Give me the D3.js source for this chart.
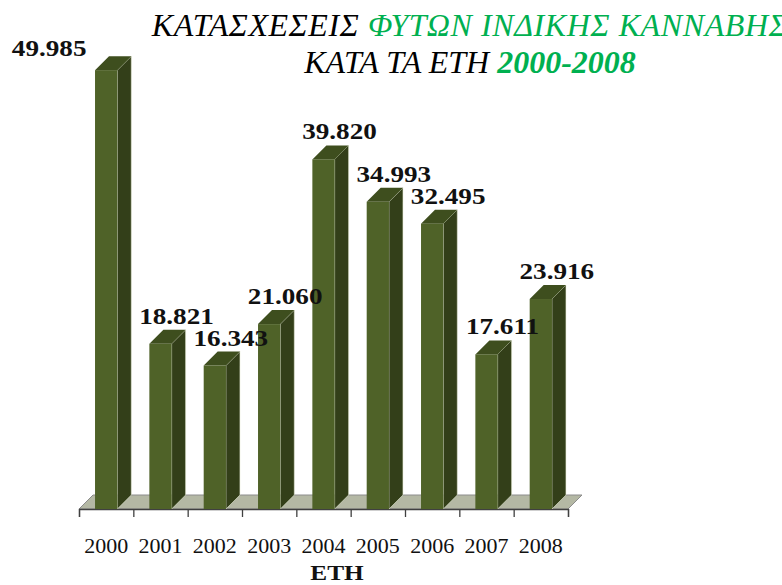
<!DOCTYPE html>
<html>
<head>
<meta charset="utf-8">
<script src="https://cdn.jsdelivr.net/npm/d3@7"></script>
<style>
  body { margin: 0; background: #fff; }
  svg { display: block; }
</style>
</head>
<body>
<div id="canvas"></div>
<script>
const years = ["2000", "2001", "2002", "2003", "2004", "2005", "2006", "2007", "2008"];
const seizures = [49985, 18821, 16343, 21060, 39820, 34993, 32495, 17611, 23916];
const titleLine1 = [["ΚΑΤΑΣΧΕΣΕΙΣ ", "black"], ["ΦΥΤΩΝ ΙΝΔΙΚΗΣ ΚΑΝΝΑΒΗΣ", "green"]];
const titleLine2 = [["ΚΑΤΑ ΤΑ ΕΤΗ ", "black"], ["2000-2008", "green"]];
const xTitle = "ΕΤΗ";

const width = 782;
const height = 585;
const floorY = 509;
const depth = 14;

const svg = d3.select("#canvas").append("svg")
  .attr("width", width)
  .attr("height", height);

const x = d3.scaleBand().domain(years).range([79, 568]);
const y = d3.scaleLinear().domain([0, 50000]).range([floorY, 70]);

const grLocale = d3.formatLocale({ decimal: ",", thousands: ".", grouping: [3], currency: ["", "€"] });
const fmt = grLocale.format(",");

const colors = { front: "#4f6228", side: "#333f19", top: "#3e4e1e", green: "#00b050" };

// widen Times-like glyphs a bit, the original font is a wide serif
function stretch(sel, k) {
  sel.each(function () {
    const w = this.getComputedTextLength();
    d3.select(this).attr("textLength", w * k).attr("lengthAdjust", "spacingAndGlyphs");
  });
}

// floor
const x0 = x.range()[0], x1 = x.range()[1];
svg.append("path")
  .attr("d", `M${x0},${floorY} L${x1},${floorY} L${x1 + depth},${floorY - depth} L${x0 + depth},${floorY - depth} Z`)
  .attr("fill", "#b4b8a4")
  .attr("stroke", "#8c8c8c")
  .attr("stroke-width", 1);

// ticks at category edges
const edges = d3.scaleLinear().domain([0, years.length]).range([x0, x1]);
svg.append("g")
  .attr("transform", `translate(0,${floorY})`)
  .call(d3.axisBottom(edges).ticks(years.length).tickSize(8).tickFormat(""))
  .call(g => g.selectAll("line, path").attr("stroke", "#404040").attr("stroke-width", 1.3));

// bars
const bw = x.bandwidth() * 0.41;
const bars = svg.append("g").selectAll("g").data(years).join("g");

bars.each(function (d, i) {
  const g = d3.select(this);
  const c = x(d) + x.bandwidth() / 2;
  const l = c - bw / 2, r = c + bw / 2;
  const t = y(seizures[i]);
  g.append("path")
    .attr("d", `M${r},${t} L${r + depth},${t - depth} L${r + depth},${floorY - depth} L${r},${floorY} Z`)
    .attr("fill", colors.side)
    .attr("stroke", "#e8ecd8").attr("stroke-width", 0.6);
  g.append("path")
    .attr("d", `M${l},${t} L${r},${t} L${r + depth},${t - depth} L${l + depth},${t - depth} Z`)
    .attr("fill", colors.top);
  g.append("rect")
    .attr("x", l).attr("y", t)
    .attr("width", bw).attr("height", floorY - t)
    .attr("fill", colors.front);
});

// value labels
svg.append("g").selectAll("text").data(years).join("text")
  .each(function (d, i) {
    const c = x(d) + x.bandwidth() / 2;
    let lx = c + 16, ly = y(seizures[i]) - 20;
    if (ly < 80) { lx = c - 57; ly = y(seizures[i]) - 14; }
    d3.select(this).attr("x", lx).attr("y", ly);
  })
  .attr("text-anchor", "middle")
  .attr("font-family", "Liberation Serif")
  .attr("font-weight", "bold")
  .attr("font-size", 23)
  .attr("fill", "#111")
  .text((d, i) => fmt(seizures[i]))
  .call(stretch, 1.18);

// category labels
svg.append("g").selectAll("text").data(years).join("text")
  .attr("x", d => x(d) + x.bandwidth() / 2)
  .attr("y", 553)
  .attr("text-anchor", "middle")
  .attr("font-family", "Liberation Serif")
  .attr("font-size", 20)
  .attr("fill", "#111")
  .text(d => d)
  .call(stretch, 1.1);

svg.append("text")
  .attr("x", 337).attr("y", 580)
  .attr("text-anchor", "middle")
  .attr("font-family", "Liberation Serif")
  .attr("font-weight", "bold")
  .attr("font-size", 22)
  .attr("fill", "#111")
  .text(xTitle)
  .call(stretch, 1.15);

// title
function titleLine(parts, yy, size, boldGreen, spacing) {
  const t = svg.append("text")
    .attr("x", 470).attr("y", yy)
    .attr("text-anchor", "middle")
    .attr("font-family", "Liberation Serif")
    .attr("font-style", "italic")
    .attr("font-size", size)
    .attr("letter-spacing", spacing);
  parts.forEach(([s, c]) => {
    t.append("tspan")
      .attr("fill", c === "green" ? colors.green : "#000")
      .attr("font-weight", c === "green" && boldGreen ? "bold" : "normal")
      .text(s);
  });
  return t;
}
titleLine(titleLine1, 36, 32, false, 0.6);
titleLine(titleLine2, 73, 32, true, 0);
</script>
</body>
</html>
